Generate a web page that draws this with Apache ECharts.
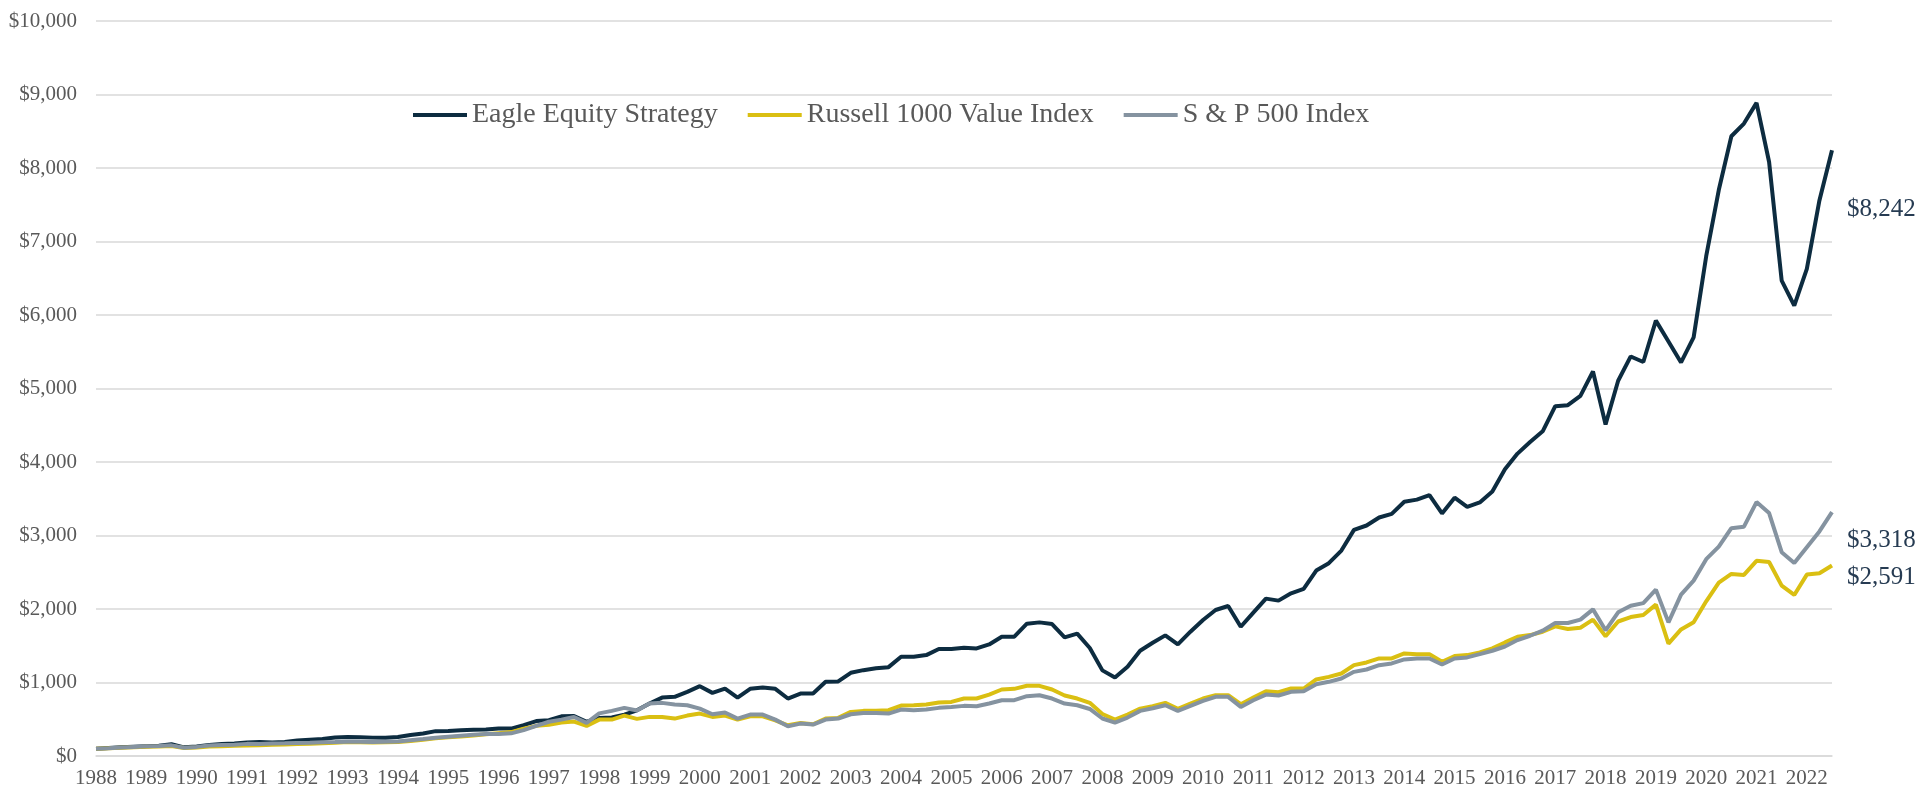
<!DOCTYPE html>
<html>
<head>
<meta charset="utf-8">
<title>Eagle Equity Strategy</title>
<script src="https://cdn.jsdelivr.net/npm/echarts@6/dist/echarts.min.js"></script>
<style>
  html, body { margin: 0; padding: 0; background: #fff; }
  #main { width: 1921px; height: 789px; }
</style>
</head>
<body>
<div id="main"></div>
<script>
// year labels shown on the x axis, one point per quarter
var years = [1988, 1989, 1990, 1991, 1992, 1993, 1994, 1995, 1996, 1997, 1998, 1999, 2000, 2001,
  2002, 2003, 2004, 2005, 2006, 2007, 2008, 2009, 2010, 2011, 2012, 2013, 2014, 2015, 2016,
  2017, 2018, 2019, 2020, 2021, 2022]
var quarters = ['Q1', 'Q2', 'Q3', 'Q4']

// growth of $100, quarterly
var eagle = [
  100, 108, 118, 125, 132, 138, 160, 118, 130, 150,
  162, 170, 185, 190, 184, 192, 212, 222, 230, 252,
  258, 256, 250, 248, 258, 285, 305, 338, 340, 350,
  358, 360, 375, 373, 420, 475, 486, 540, 545, 466,
  518, 525, 562, 622, 714, 795, 805, 873, 950, 859,
  918, 795, 914, 932, 914, 782, 850, 850, 1009, 1014,
  1132, 1168, 1195, 1209, 1350, 1350, 1373, 1455, 1455, 1473,
  1464, 1518, 1623, 1623, 1800, 1818, 1795, 1614, 1664, 1470,
  1165, 1068, 1214, 1432, 1541, 1641, 1518, 1691, 1850, 1986,
  2041, 1759, 1950, 2141, 2114, 2214, 2273, 2523, 2623, 2795,
  3077, 3136, 3245, 3295, 3460, 3488, 3550, 3300, 3515, 3390,
  3450, 3600, 3900, 4114, 4273, 4418, 4759, 4773, 4900, 5232,
  4510, 5105, 5436, 5360, 5923, 5640, 5355, 5695, 6800, 7700,
  8432, 8605, 8886, 8082, 6468, 6127, 6627, 7559, 8242
]
var russell = [
  100, 105, 113, 120, 125, 128, 135, 108, 115, 128,
  132, 140, 143, 146, 152, 158, 163, 167, 172, 180,
  190, 188, 185, 186, 189, 205, 222, 240, 255, 265,
  280, 295, 310, 325, 370, 410, 425, 455, 468, 410,
  495, 495, 550, 505, 532, 532, 509, 550, 577, 532,
  550, 495, 541, 541, 486, 418, 450, 432, 509, 518,
  600, 614, 614, 623, 686, 691, 700, 727, 736, 782,
  782, 836, 905, 914, 955, 955, 905, 823, 782, 723,
  572, 495, 564, 645, 677, 723, 641, 714, 782, 827,
  827, 705, 795, 882, 868, 918, 918, 1041, 1077, 1123,
  1236, 1273, 1327, 1327, 1395, 1386, 1386, 1282, 1359, 1373,
  1409, 1464, 1545, 1623, 1645, 1691, 1764, 1727, 1745, 1855,
  1630, 1830, 1890, 1918, 2060, 1530, 1722, 1820, 2105, 2360,
  2477, 2464, 2655, 2640, 2318, 2191, 2468, 2486, 2591
]
var sp500 = [
  100, 106, 115, 124, 132, 136, 145, 112, 124, 143,
  148, 152, 165, 163, 170, 172, 178, 180, 186, 190,
  195, 193, 192, 195, 197, 215, 230, 248, 262, 275,
  288, 298, 300, 308, 352, 410, 466, 495, 530, 450,
  580, 614, 655, 620, 714, 723, 700, 691, 645, 568,
  591, 509, 564, 564, 495, 405, 441, 427, 495, 509,
  568, 586, 586, 577, 632, 623, 632, 655, 668, 682,
  677, 714, 759, 759, 814, 827, 782, 714, 691, 640,
  510, 455, 523, 614, 650, 691, 614, 682, 750, 805,
  805, 668, 759, 836, 823, 873, 882, 977, 1009, 1055,
  1145, 1177, 1236, 1259, 1314, 1327, 1327, 1245, 1327, 1341,
  1386, 1432, 1490, 1577, 1636, 1705, 1809, 1809, 1855, 1995,
  1710, 1955, 2045, 2080, 2264, 1818, 2195, 2386, 2678, 2848,
  3100, 3120, 3455, 3305, 2773, 2627, 2841, 3055, 3318
]

var categories = []
years.forEach(function (y) {
  quarters.forEach(function (q) {
    categories.push(y + ' ' + q)
  })
})
categories = categories.slice(0, eagle.length)

var font = 'Liberation Serif'
var axisColor = '#595959'
var last = categories.length - 1

// dollar label placed right of the last point
function endMark(values, dy) {
  return {
    symbolSize: 0,
    silent: true,
    label: {
      show: true,
      position: 'right',
      distance: 15,
      offset: [0, dy],
      color: '#263b52',
      fontFamily: font,
      fontSize: 25,
      formatter: function () {
        return '$' + values[last].toLocaleString('en-US')
      },
    },
    data: [{ coord: [categories[last], values[last]] }],
  }
}

function lineSeries(name, values, color, dy) {
  return {
    name: name,
    type: 'line',
    data: values,
    symbol: 'none',
    lineStyle: { color: color, width: 4 },
    itemStyle: { color: color },
    markPoint: endMark(values, dy),
  }
}

var chart = echarts.init(document.getElementById('main'))
chart.setOption({
  animation: false,
  grid: { left: 96, right: 89, top: 21, bottom: 33 },
  legend: {
    left: 408,
    top: 96,
    icon: 'rect',
    itemWidth: 54,
    itemHeight: 4,
    itemGap: 30,
    textStyle: { fontFamily: font, fontSize: 28, color: axisColor },
    data: ['Eagle Equity Strategy', 'Russell 1000 Value Index', 'S & P 500 Index'],
  },
  xAxis: {
    type: 'category',
    data: categories,
    boundaryGap: false,
    axisLine: { show: true, lineStyle: { color: '#d9d9d9', width: 1.5 } },
    axisTick: { show: false },
    axisLabel: {
      interval: 3,
      margin: 12,
      color: axisColor,
      fontFamily: font,
      fontSize: 21,
      formatter: function (v) { return v.slice(0, 4) },
    },
    splitLine: { show: false },
  },
  yAxis: {
    type: 'value',
    min: 0,
    max: 10000,
    interval: 1000,
    axisLine: { show: false },
    axisTick: { show: false },
    axisLabel: {
      margin: 19,
      color: axisColor,
      fontFamily: font,
      fontSize: 21,
      formatter: function (v) { return '$' + v.toLocaleString('en-US') },
    },
    splitLine: { lineStyle: { color: '#d9d9d9', width: 1.5 } },
  },
  series: [
    lineSeries('Eagle Equity Strategy', eagle, '#0d2c40', 59),
    lineSeries('Russell 1000 Value Index', russell, '#dabf12', 12),
    lineSeries('S & P 500 Index', sp500, '#8593a0', 28),
  ],
})
</script>
</body>
</html>
